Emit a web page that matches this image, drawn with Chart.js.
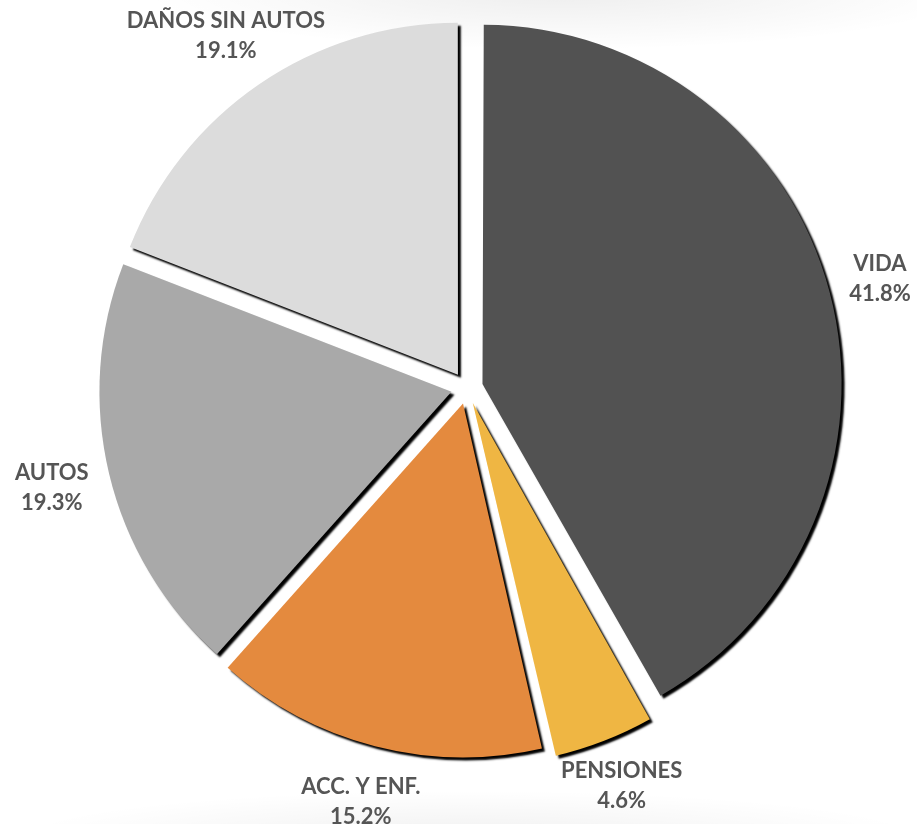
<!DOCTYPE html>
<html>
<head>
<meta charset="utf-8">
<script src="https://cdn.jsdelivr.net/npm/chart.js@4"></script>
<style>
  html, body { margin: 0; padding: 0; background: #fff; }
  #wrap {
    width: 917px; height: 824px; position: relative;
    background:
      radial-gradient(ellipse 420px 60px at 560px -10px, rgba(0,0,0,0.07), rgba(0,0,0,0) 100%),
      radial-gradient(ellipse 460px 50px at 470px 840px, rgba(0,0,0,0.06), rgba(0,0,0,0) 100%),
      #fff;
  }
</style>
</head>
<body>
<div id="wrap"><canvas id="pieChart" width="917" height="824"></canvas></div>
<script>
// data van de taart
const categorias = ['VIDA', 'PENSIONES', 'ACC. Y ENF.', 'AUTOS', 'DAÑOS SIN AUTOS'];
const porcentajes = [41.8, 4.6, 15.2, 19.3, 19.1];
const colores = ['#525252', '#efb643', '#e48a3e', '#a9a9a9', '#dcdcdc'];

// schaduw + labels buiten de taart
const pieExtras = {
	id: 'pieExtras',
	beforeDatasetsDraw(chart) {
		const ctx = chart.ctx;
		ctx.save();
		ctx.shadowColor = 'rgba(0,0,0,1)';
		ctx.shadowBlur = 2;
		ctx.shadowOffsetX = 3;
		ctx.shadowOffsetY = 3;
	},
	afterDatasetsDraw(chart) {
		const ctx = chart.ctx;
		ctx.restore();
		const meta = chart.getDatasetMeta(0);
		ctx.save();
		ctx.font = 'bold 22px Lato, "Open Sans", sans-serif';
		ctx.fillStyle = '#555555';
		ctx.textAlign = 'center';
		ctx.textBaseline = 'middle';
		meta.data.forEach((arc, i) => {
			const mid = (arc.startAngle + arc.endAngle) / 2;
			const dist = arc.outerRadius + 76;
			const x = arc.x + Math.cos(mid) * dist;
			const y = arc.y + Math.sin(mid) * dist;
			ctx.fillText(categorias[i], x, y - 15);
			ctx.fillText(porcentajes[i].toFixed(1) + '%', x, y + 15);
		});
		ctx.restore();
	}
};

const configPie = {
	type: 'pie',
	data: {
		labels: categorias,
		datasets: [{
			data: porcentajes,
			backgroundColor: colores,
			borderWidth: 0,
			offset: 64, // chart.js schuift elk stuk offset/4 px op
			hoverOffset: 0
		}]
	},
	options: {
		responsive: false,
		animation: false,
		events: [],
		layout: { padding: { left: 84, right: 67, top: 5, bottom: 53 } },
		plugins: {
			legend: { display: false },
			tooltip: { enabled: false }
		}
	},
	plugins: [pieExtras]
};
new Chart(document.getElementById('pieChart'), configPie);
</script>
</body>
</html>
